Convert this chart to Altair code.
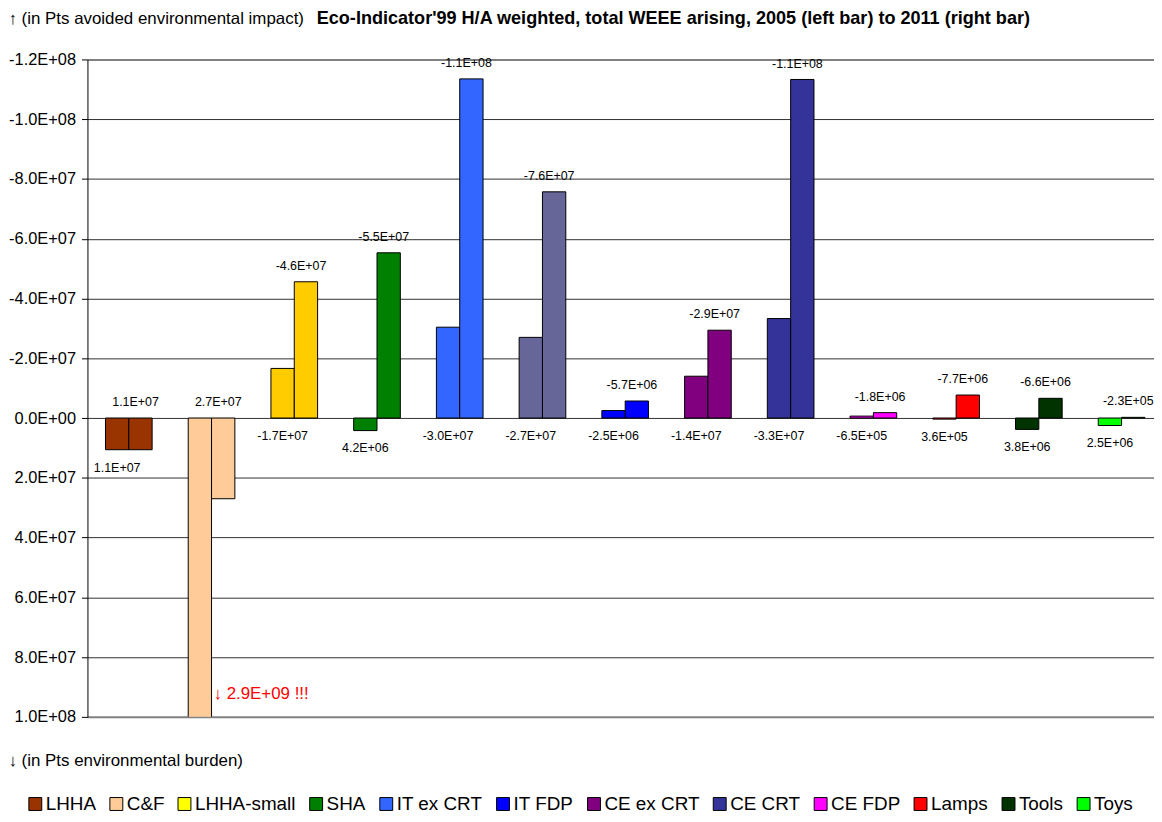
import altair as alt
import pandas as pd

groups = ["LHHA", "C&F", "LHHA-small", "SHA", "IT ex CRT", "IT CRT", "IT FDP",
          "CE ex CRT", "CE CRT", "CE FDP", "Lamps", "Tools", "Toys"]
bar_colors = ["#993300", "#FFCC99", "#FFCC00", "#008000", "#3366FF", "#666699", "#0000FF",
              "#800080", "#333399", "#FF00FF", "#FF0000", "#003300", "#00FF00"]
values_2005 = [1.06e7, 2.9e9, -1.66e7, 4.2e6, -3.04e7, -2.7e7, -2.5e6,
               -1.4e7, -3.33e7, -6.5e5, 3.6e5, 3.8e6, 2.5e6]
values_2011 = [1.06e7, 2.7e7, -4.56e7, -5.53e7, -1.135e8, -7.57e7, -5.7e6,
               -2.94e7, -1.133e8, -1.8e6, -7.7e6, -6.6e6, -2.3e5]
years = ["2005", "2011"]

legend_names = ["LHHA", "C&F", "LHHA-small", "SHA", "IT ex CRT", "IT FDP",
                "CE ex CRT", "CE CRT", "CE FDP", "Lamps", "Tools", "Toys"]
legend_colors = ["#993300", "#FFCC99", "#FFFF00", "#008000", "#3366FF", "#0000FF",
                 "#800080", "#333399", "#FF00FF", "#FF0000", "#003300", "#00FF00"]

y_ticks = [-1.2e8, -1.0e8, -8.0e7, -6.0e7, -4.0e7, -2.0e7, 0.0,
           2.0e7, 4.0e7, 6.0e7, 8.0e7, 1.0e8]
y_domain = [-1.2e8, 1.0e8]

annot_group = ["C&F"]
annot_value = [9.25e7]
annot_text = ["↓ 2.9E+09 !!!"]

rows = []
for g, v05, v11 in zip(groups, values_2005, values_2011):
    rows.append({"group": g, "year": "2005", "value": v05, "label": f"{v05:.1E}",
                 "lab_y": max(0.0, v05)})
    rows.append({"group": g, "year": "2011", "value": v11, "label": f"{v11:.1E}",
                 "lab_y": min(0.0, v11)})
df = pd.DataFrame(rows)
df05 = df[(df.year == "2005") & (df.lab_y <= y_domain[1])]
df11 = df[df.year == "2011"]
annot_df = pd.DataFrame({"group": annot_group, "value": annot_value, "text": annot_text})
leg_df = pd.DataFrame({"group": legend_names, "value": [0.0] * len(legend_names)})

xscale = alt.Scale(domain=groups, range=[0, 1083], paddingInner=0.436, paddingOuter=0.218)
xaxis = alt.Axis(labels=False, ticks=False, domain=False, grid=False,
                 title="↓ (in Pts environmental burden)", titleX=-80, titleY=44,
                 titleAlign="left", titleBaseline="middle", titleAngle=0,
                 titleFontSize=17, titleFontWeight="normal", titleColor="black")
yscale = alt.Scale(domain=y_domain, reverse=True, nice=False, zero=False)
edge_test = "datum.value == -120000000 || datum.value == 100000000"
yaxis = alt.Axis(values=y_ticks,
                 labelExpr="replace(replace(replace(upper(format(datum.value, '.1e')), '−', '-'), 'E+', 'E+0'), 'E-', 'E-0')",
                 labelFontSize=16.5, labelColor="black", labelPadding=6,
                 tickSize=6, tickColor="black", domainColor="black", domainWidth=1,
                 grid=True,
                 gridColor={"condition": {"test": edge_test, "value": "#808080"}, "value": "#303030"},
                 gridWidth={"condition": {"test": edge_test, "value": 2}, "value": 1},
                 title="↑ (in Pts avoided environmental impact)", titleAngle=0,
                 titleX=-80, titleY=-41, titleAlign="left", titleBaseline="middle",
                 titleFontSize=17, titleFontWeight="normal", titleColor="black")
xoff = alt.XOffset("year:N", sort=years,
                   scale=alt.Scale(domain=years, paddingInner=0, paddingOuter=0))

bars = alt.Chart(df).mark_bar(stroke="black", strokeWidth=1, clip=True).encode(
    x=alt.X("group:N", sort=groups, scale=xscale, axis=xaxis),
    xOffset=xoff,
    y=alt.Y("value:Q", scale=yscale, axis=yaxis),
    fill=alt.Fill("group:N", scale=alt.Scale(domain=groups, range=bar_colors), legend=None),
)

text05 = alt.Chart(df05).mark_text(baseline="middle", dy=18, fontSize=12.5, color="black").encode(
    x=alt.X("group:N", sort=groups),
    xOffset=xoff,
    y=alt.Y("lab_y:Q"),
    text="label:N",
)
text11 = alt.Chart(df11).mark_text(baseline="middle", dy=-16, dx=-5, fontSize=12.5,
                                   color="black").encode(
    x=alt.X("group:N", sort=groups),
    xOffset=xoff,
    y=alt.Y("lab_y:Q"),
    text="label:N",
)
annot = alt.Chart(annot_df).mark_text(align="left", baseline="middle", dx=2, fontSize=17,
                                      color="#FF0000").encode(
    x=alt.X("group:N", sort=groups),
    y=alt.Y("value:Q"),
    text="text:N",
)
legend_layer = alt.Chart(leg_df).mark_bar(opacity=0).encode(
    x=alt.X("group:N", sort=groups),
    y=alt.Y("value:Q"),
    color=alt.Color("group:N", scale=alt.Scale(domain=legend_names, range=legend_colors),
                    legend=alt.Legend(orient="none", legendX=-62, legendY=740,
                                      direction="horizontal", columns=12, title=None,
                                      symbolType="square", symbolSize=169,
                                      symbolStrokeColor="black", symbolStrokeWidth=1,
                                      symbolOpacity=1, labelFontSize=19, labelColor="black",
                                      labelOffset=1, columnPadding=10.6, padding=0,
                                      labelLimit=300)),
)

chart = alt.layer(bars, text05, text11, annot, legend_layer).properties(
    width=1072,
    height=662,
    autosize=alt.AutoSizeParams(type="none"),
    padding={"left": 80, "top": 49, "right": 2, "bottom": 95},
    title=alt.Title("Eco-Indicator'99 H/A weighted, total WEEE arising, 2005 (left bar) to 2011 (right bar)",
                    fontSize=18.2, fontWeight="bold", anchor="middle", frame="group",
                    dx=54, dy=19, offset=0, color="black"),
).configure(font="Liberation Sans").configure_view(stroke=None)

chart.save("out.html", embed_options={"renderer": "svg", "actions": False})
